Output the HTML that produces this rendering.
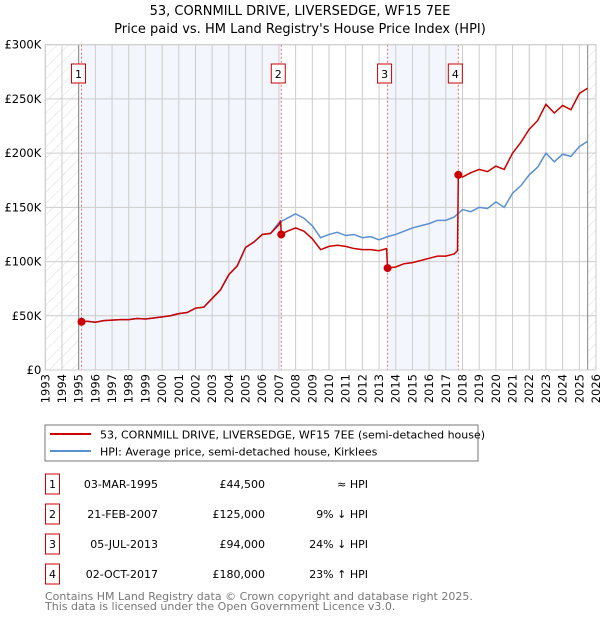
<!DOCTYPE html>
<html><head><meta charset="utf-8"><style>
body{margin:0;background:#fff;font-family:"DejaVu Sans","Liberation Sans",sans-serif;}
svg text{font-family:"DejaVu Sans","Liberation Sans",sans-serif;}
</style></head><body>
<svg id="c" width="600" height="620" xmlns="http://www.w3.org/2000/svg">
<defs><pattern id="hatch" width="8" height="8" patternUnits="userSpaceOnUse" patternTransform="rotate(45)"><line x1="0" y1="0" x2="0" y2="8" stroke="#d4d4d4" stroke-width="0.8"/></pattern></defs>
<text x="300" y="15" text-anchor="middle" font-size="13" fill="#000">53, CORNMILL DRIVE, LIVERSEDGE, WF15 7EE</text>
<text x="300" y="33" text-anchor="middle" font-size="13" fill="#000">Price paid vs. HM Land Registry's House Price Index (HPI)</text>
<g id="plot"></g>
<rect x="45" y="425" width="433" height="36" fill="#fff" stroke="#777"/>
<line x1="50" y1="434" x2="91" y2="434" stroke="#cc0000" stroke-width="2"/>
<text x="100" y="438.5" font-size="11">53, CORNMILL DRIVE, LIVERSEDGE, WF15 7EE (semi-detached house)</text>
<line x1="50" y1="451" x2="91" y2="451" stroke="#5b8fd0" stroke-width="2"/>
<text x="100" y="455.5" font-size="11">HPI: Average price, semi-detached house, Kirklees</text>
<g id="table" font-size="11"></g>
<text x="45" y="600" font-size="11" fill="#777">Contains HM Land Registry data © Crown copyright and database right 2025.</text>
<text x="45" y="610" font-size="11" fill="#777">This data is licensed under the Open Government Licence v3.0.</text>
</svg>
<script>
const hpiYears=[1995,1995.5,1996,1996.5,1997,1997.5,1998,1998.5,1999,1999.5,2000,2000.5,2001,2001.5,2002,2002.5,2003,2003.5,2004,2004.5,2005,2005.5,2006,2006.5,2007,2007.5,2008,2008.5,2009,2009.5,2010,2010.5,2011,2011.5,2012,2012.5,2013,2013.5,2014,2014.5,2015,2015.5,2016,2016.5,2017,2017.5,2018,2018.5,2019,2019.5,2020,2020.5,2021,2021.5,2022,2022.5,2023,2023.5,2024,2024.5,2025,2025.5];
const hpiValues=[44,45,44,45.5,46,46.5,46.5,47.5,47,48,49,50,52,53,57,58,66,74,88,96,113,118,125,126,136,140,144,140,133,122,125,127,124,125,122,123,120,123,125,128,131,133,135,138,138,141,148,146,150,149,155,150,163,170,180,187,200,192,199,197,206,211];
const priceYears=[1995.17,1995.5,1996,1996.5,1997,1997.5,1998,1998.5,1999,1999.5,2000,2000.5,2001,2001.5,2002,2002.5,2003,2003.5,2004,2004.5,2005,2005.5,2006,2006.5,2007,2007.1,2007.14,2007.5,2008,2008.5,2009,2009.5,2010,2010.5,2011,2011.5,2012,2012.5,2013,2013.45,2013.51,2014,2014.5,2015,2015.5,2016,2016.5,2017,2017.5,2017.7,2017.75,2018,2018.5,2019,2019.5,2020,2020.5,2021,2021.5,2022,2022.5,2023,2023.5,2024,2024.5,2025,2025.5];
const priceValues=[44.5,45,44,45.5,46,46.5,46.5,47.5,47,48,49,50,52,53,57,58,66,74,88,96,113,118,125,126,134,138,125,128,131,128,121,111,114,115,114,112,111,111,110,112,94,95,98,99,101,103,105,105,107,110,180,178,182,185,183,188,185,200,210,222,230,245,237,244,240,255,260];
const saleYears=[1995.17,2007.14,2013.51,2017.75];
const saleValues=[44.5,125,94,180];
const saleDates=["03-MAR-1995","21-FEB-2007","05-JUL-2013","02-OCT-2017"];
const salePrices=["£44,500","£125,000","£94,000","£180,000"];
const saleRel=["≈ HPI","9% ↓ HPI","24% ↓ HPI","23% ↑ HPI"];
const yTicks=[0,50,100,150,200,250,300];
const yTickLabels=["£0","£50K","£100K","£150K","£200K","£250K","£300K"];
const xTicks=[1993,1994,1995,1996,1997,1998,1999,2000,2001,2002,2003,2004,2005,2006,2007,2008,2009,2010,2011,2012,2013,2014,2015,2016,2017,2018,2019,2020,2021,2022,2023,2024,2025,2026];

const X0=45.3,X1=596,Y0=370,Y1=44.7;
const xs=y=>X0+(y-1993)/33*(X1-X0);
const ys=v=>Y0-v/300*(Y0-Y1);
const NS="http://www.w3.org/2000/svg";
const plot=document.getElementById('plot');
function mk(tag,attrs,parent){const e=document.createElementNS(NS,tag);for(const k in attrs)e.setAttribute(k,attrs[k]);(parent||plot).appendChild(e);return e;}

let e;
e=mk('rect',{x:X0,y:Y1,width:X1-X0,height:Y0-Y1,fill:'#fff'});


e=mk('rect',{x:X0,y:Y1,width:xs(1995)-X0,height:Y0-Y1,fill:'url(#hatch)'});


e=mk('rect',{x:xs(2025.5),y:Y1,width:X1-xs(2025.5),height:Y0-Y1,fill:'url(#hatch)'});


e=mk('rect',{x:xs(saleYears[0]),y:Y1,width:xs(saleYears[1])-xs(saleYears[0]),height:Y0-Y1,fill:'#f3f6fd'});


e=mk('rect',{x:xs(saleYears[2]),y:Y1,width:xs(saleYears[3])-xs(saleYears[2]),height:Y0-Y1,fill:'#f3f6fd'});


xTicks.forEach(t=>{
  e=mk('line',{x1:xs(t),x2:xs(t),y1:Y1,y2:Y0,stroke:'#ccc','stroke-width':1});
  
  
  e=mk('text',{transform:`translate(${xs(t)+4},${Y0+4}) rotate(-90)`,'text-anchor':'end','font-size':11.5,fill:'#000'});
  e.textContent=t;
  
  
});
yTicks.forEach((t,i)=>{
  e=mk('line',{x1:X0,x2:X1,y1:ys(t),y2:ys(t),stroke:'#ccc','stroke-width':1});
  
  
  e=mk('text',{x:X0-4,y:ys(t)+4,'text-anchor':'end','font-size':11.5,fill:'#000'});
  e.textContent=yTickLabels[i];
  
  
});
e=mk('line',{x1:xs(1995),x2:xs(1995),y1:Y1,y2:Y0,stroke:'#888'});


e=mk('line',{x1:xs(2025.5),x2:xs(2025.5),y1:Y1,y2:Y0,stroke:'#888'});


saleYears.forEach((y,i)=>{
  e=mk('line',{x1:xs(y),x2:xs(y),y1:Y1,y2:Y0,stroke:'#e87070','stroke-dasharray':'2,2'});
  
  
});
e=mk('polyline',{points:hpiYears.map((y,i)=>xs(y)+','+ys(hpiValues[i])).join(' '),fill:'none',stroke:'#5b8fd0','stroke-width':1.5});


e=mk('polyline',{points:priceYears.map((y,i)=>xs(y)+','+ys(priceValues[i])).join(' '),fill:'none',stroke:'#cc0000','stroke-width':1.5});


saleYears.forEach((y,i)=>{
  e=mk('circle',{cx:xs(y),cy:ys(saleValues[i]),r:4,fill:'#cc0000'});
  
  
  e=mk('rect',{x:xs(y)-10,y:64,width:14,height:19,fill:'#fff',stroke:'#cc0000'});
  
  
  e=mk('text',{x:xs(y)-3,y:78,'text-anchor':'middle','font-size':11});
  e.textContent=i+1;
  
  
});
e=mk('rect',{x:X0,y:Y1,width:X1-X0,height:Y0-Y1,fill:'none',stroke:'#ccc'});



const tb=document.getElementById('table');
saleDates.forEach((d,i)=>{
  const cy=483+i*30;
  e=mk('rect',{x:45.5,y:cy-9,width:14,height:20,fill:'#fff',stroke:'#cc0000'},tb);
  
  
  e=mk('text',{x:52.5,y:cy+5,'text-anchor':'middle'},tb);e.textContent=i+1;
  
  
  e=mk('text',{x:158,y:cy+5,'text-anchor':'end'},tb);e.textContent=d;
  
  
  e=mk('text',{x:265,y:cy+5,'text-anchor':'end'},tb);e.textContent=salePrices[i];
  
  
  e=mk('text',{x:368,y:cy+5,'text-anchor':'end'},tb);e.textContent=saleRel[i];
  
  
});
</script>
</body></html>
